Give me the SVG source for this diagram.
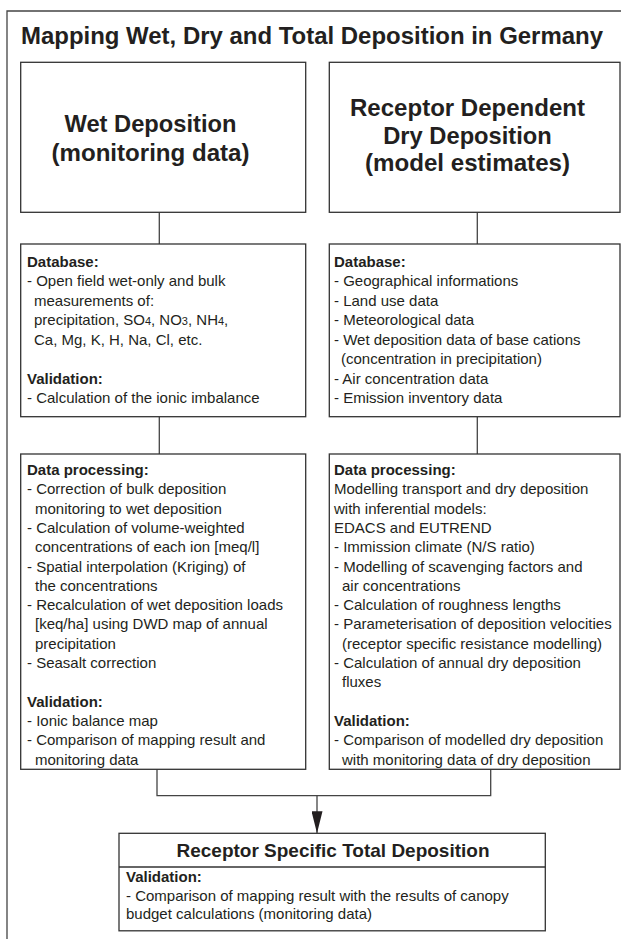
<svg xmlns="http://www.w3.org/2000/svg" width="621" height="939" viewBox="0 0 621 939">
<defs>
<style>
.frame{fill:none;stroke:#444;stroke-width:1.3}
.box{fill:#fff;stroke:#333;stroke-width:1.3}
.conn{fill:none;stroke:#444;stroke-width:1.3}
text{font-family:"Liberation Sans",Arial,Helvetica,sans-serif;fill:#231f20}
.t{font-size:15px}
.b{font-size:15px;font-weight:bold}
.big{font-size:24px;font-weight:bold;text-anchor:middle}
.sub{font-size:11px}
</style>
<marker id="ah" markerUnits="userSpaceOnUse" markerWidth="22" markerHeight="11" refX="22" refY="5.5" orient="auto" viewBox="0 0 22 11">
<path d="M0,0 L22,5.5 L0,11 Z" fill="#231f20"/>
</marker>
</defs>
<rect width="621" height="939" fill="#fff"/>
<path class="frame" d="M7,939 V11 H621"/>
<text x="21" y="44" style="font-size:23.5px;font-weight:bold" textLength="582" lengthAdjust="spacingAndGlyphs">Mapping Wet, Dry and Total Deposition in Germany</text>

<g id="connectors">
<line class="conn" x1="159.3" y1="212.3" x2="159.3" y2="244"/>
<line class="conn" x1="477.3" y1="212.3" x2="477.3" y2="244"/>
<line class="conn" x1="159.3" y1="416.7" x2="159.3" y2="454"/>
<line class="conn" x1="477.3" y1="416.7" x2="477.3" y2="454"/>
<path class="conn" d="M157,769.3 V795.7 H490.7 V769.3"/>
<line class="conn" x1="317" y1="795.7" x2="317" y2="833.3" marker-end="url(#ah)"/>
</g>

<g id="wet">
<rect class="box" x="20.7" y="62.3" width="285" height="150"/>
<text class="big" x="150.5" y="132" textLength="172" lengthAdjust="spacingAndGlyphs">Wet Deposition</text>
<text class="big" x="150.5" y="161" textLength="198" lengthAdjust="spacingAndGlyphs">(monitoring data)</text>
</g>

<g id="dry">
<rect class="box" x="329.3" y="62.3" width="290.7" height="150"/>
<text class="big" x="467.5" y="116" textLength="235" lengthAdjust="spacingAndGlyphs">Receptor Dependent</text>
<text class="big" x="467.5" y="143.5" textLength="168.5" lengthAdjust="spacingAndGlyphs">Dry Deposition</text>
<text class="big" x="467.5" y="171" textLength="205" lengthAdjust="spacingAndGlyphs">(model estimates)</text>
</g>

<g id="wet-database">
<rect class="box" x="20.7" y="244" width="285" height="172.7"/>
<text class="b" x="27" y="266.5">Database:</text>
<text class="t" x="27" y="286">- Open field wet-only and bulk</text>
<text class="t" x="34" y="305.5">measurements of:</text>
<text class="t" x="34" y="325">precipitation, SO<tspan class="sub">4</tspan>, NO<tspan class="sub">3</tspan>, NH<tspan class="sub">4</tspan>,</text>
<text class="t" x="34" y="344.5">Ca, Mg, K, H, Na, Cl, etc.</text>
<text class="b" x="27" y="383.5">Validation:</text>
<text class="t" x="27" y="403">- Calculation of the ionic imbalance</text>
</g>

<g id="dry-database">
<rect class="box" x="329.3" y="244" width="290.7" height="172.7"/>
<text class="b" x="334" y="266.5">Database:</text>
<text class="t" x="334" y="286">- Geographical informations</text>
<text class="t" x="334" y="305.5">- Land use data</text>
<text class="t" x="334" y="325">- Meteorological data</text>
<text class="t" x="334" y="344.5">- Wet deposition data of base cations</text>
<text class="t" x="341" y="364">(concentration in precipitation)</text>
<text class="t" x="334" y="383.5">- Air concentration data</text>
<text class="t" x="334" y="403">- Emission inventory data</text>
</g>

<g id="wet-processing">
<rect class="box" x="20.7" y="454" width="285" height="315.3"/>
<text class="b" x="27" y="475">Data processing:</text>
<text class="t" x="27" y="494.3">- Correction of bulk deposition</text>
<text class="t" x="35" y="513.6">monitoring to wet deposition</text>
<text class="t" x="27" y="532.9">- Calculation of volume-weighted</text>
<text class="t" x="35" y="552.2">concentrations of each ion [meq/l]</text>
<text class="t" x="27" y="571.5">- Spatial interpolation (Kriging) of</text>
<text class="t" x="35" y="590.8">the concentrations</text>
<text class="t" x="27" y="610.1">- Recalculation of wet deposition loads</text>
<text class="t" x="35" y="629.4">[keq/ha] using DWD map of annual</text>
<text class="t" x="35" y="648.7">precipitation</text>
<text class="t" x="27" y="668">- Seasalt correction</text>
<text class="b" x="27" y="706.6">Validation:</text>
<text class="t" x="27" y="725.9">- Ionic balance map</text>
<text class="t" x="27" y="745.2">- Comparison of mapping result and</text>
<text class="t" x="35" y="764.5">monitoring data</text>
</g>

<g id="dry-processing">
<rect class="box" x="329.3" y="454" width="290.7" height="315.3"/>
<text class="b" x="334" y="475">Data processing:</text>
<text class="t" x="334" y="494.3">Modelling transport and dry deposition</text>
<text class="t" x="334" y="513.6">with inferential models:</text>
<text class="t" x="334" y="532.9">EDACS and EUTREND</text>
<text class="t" x="334" y="552.2">- Immission climate (N/S ratio)</text>
<text class="t" x="334" y="571.5">- Modelling of scavenging factors and</text>
<text class="t" x="342" y="590.8">air concentrations</text>
<text class="t" x="334" y="610.1">- Calculation of roughness lengths</text>
<text class="t" x="334" y="629.4">- Parameterisation of deposition velocities</text>
<text class="t" x="342" y="648.7">(receptor specific resistance modelling)</text>
<text class="t" x="334" y="668">- Calculation of annual dry deposition</text>
<text class="t" x="342" y="687.3">fluxes</text>
<text class="b" x="334" y="725.9">Validation:</text>
<text class="t" x="334" y="745.2">- Comparison of modelled dry deposition</text>
<text class="t" x="342" y="764.5">with monitoring data of dry deposition</text>
</g>

<g id="total">
<rect class="box" x="119" y="833.3" width="426.3" height="97.5"/>
<line class="box" x1="119" y1="867" x2="545.3" y2="867"/>
<text x="333" y="857" style="font-size:19px;font-weight:bold;text-anchor:middle" textLength="313" lengthAdjust="spacingAndGlyphs">Receptor Specific Total Deposition</text>
<text class="b" x="126" y="882">Validation:</text>
<text class="t" x="126" y="900.5">- Comparison of mapping result with the results of canopy</text>
<text class="t" x="126" y="919">budget calculations (monitoring data)</text>
</g>
</svg>
